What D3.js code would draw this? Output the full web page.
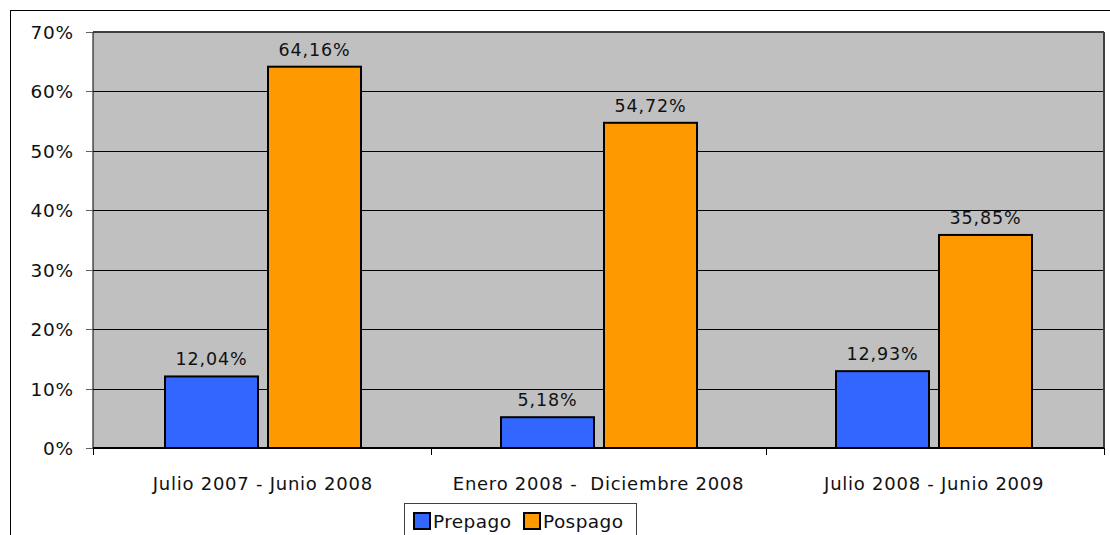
<!DOCTYPE html>
<html><head><meta charset="utf-8">
<script src="https://cdn.jsdelivr.net/npm/d3@7"></script>
<style>body{margin:0;background:#fff;} svg{display:block;} text{font-family:"DejaVu Sans",Verdana,sans-serif;fill:#111;}</style>
</head><body>
<svg id="c" width="1110" height="535"></svg>
<script>
const categories = ["Julio 2007 - Junio 2008", "Enero 2008 -  Diciembre 2008", "Julio 2008 - Junio 2009"];
const seriesNames = ["Prepago", "Pospago"];
const prepago = [12.04, 5.18, 12.93];
const pospago = [64.16, 54.72, 35.85];
const yTicks = [0, 10, 20, 30, 40, 50, 60, 70];
const colors = ["#3366FF", "#FF9900"];

const svg = d3.select("#c");
// outer frame
svg.append("rect").attr("x",10.5).attr("y",10.5).attr("width",1120).attr("height",540)
  .attr("fill","none").attr("stroke","#000").attr("stroke-width",1);

const L=93, T=32, R=1104, B=448;
const x0 = d3.scaleBand().domain(categories).range([L+2,R-2]).paddingInner(0).paddingOuter(0);
const y = d3.scaleLinear().domain([0,70]).range([B,T]);

svg.append("rect").attr("x",L).attr("y",T).attr("width",R-L).attr("height",B-T).attr("fill","#C0C0C0");

// gridlines
svg.append("g").selectAll("line").data(yTicks.filter(d=>d>0)).join("line")
  .attr("x1",L).attr("x2",R).attr("y1",d=>Math.round(y(d))+0.5).attr("y2",d=>Math.round(y(d))+0.5)
  .attr("stroke","#000").attr("stroke-width",1);
// plot border top/right
svg.append("line").attr("x1",L).attr("x2",R).attr("y1",T).attr("y2",T).attr("stroke","#404040").attr("stroke-width",2);
svg.append("line").attr("x1",R).attr("x2",R).attr("y1",T).attr("y2",B).attr("stroke","#404040").attr("stroke-width",2);

const data = categories.map((c,i)=>({c, vals:[prepago[i], pospago[i]]}));
const bwid = 93, gap = 10;
const g = svg.append("g");
data.forEach(d=>{
  const cx = x0(d.c) + x0.bandwidth()/2;
  d.vals.forEach((v,j)=>{
    const xs = Math.round(cx + (j===0 ? -gap/2 - bwid : gap/2));
    g.append("rect").attr("x",xs).attr("y",y(v)).attr("width",bwid).attr("height",y(0)-y(v))
      .attr("fill",colors[j]).attr("stroke","#000").attr("stroke-width",2);
    g.append("text").attr("x",xs+bwid/2).attr("y",y(v)-11).attr("text-anchor","middle")
      .attr("font-size",17.5).attr("letter-spacing","0.9px")
      .text(v.toFixed(2).replace(".",",")+"%");
  });
});

// y axis
svg.append("line").attr("x1",L).attr("x2",L).attr("y1",T).attr("y2",B).attr("stroke","#000").attr("stroke-width",1);
svg.append("g").selectAll("line").data(yTicks).join("line")
  .attr("x1",L-7).attr("x2",L).attr("y1",d=>Math.round(y(d))+0.5).attr("y2",d=>Math.round(y(d))+0.5)
  .attr("stroke","#606060");
svg.append("g").selectAll("text").data(yTicks).join("text")
  .attr("x",74).attr("y",d=>y(d)+7).attr("text-anchor","end").attr("font-size",18.5).attr("letter-spacing","0.8px")
  .text(d=>d+"%");

// x axis
svg.append("line").attr("x1",L).attr("x2",R).attr("y1",B).attr("y2",B).attr("stroke","#000").attr("stroke-width",2);
const xt = [L].concat(categories.slice(1).map(c=>x0(c))).concat([R]);
svg.append("g").selectAll("line").data(xt).join("line")
  .attr("x1",d=>Math.round(d)+0.5).attr("x2",d=>Math.round(d)+0.5).attr("y1",B).attr("y2",B+7).attr("stroke","#000");
svg.append("g").selectAll("text").data(categories).join("text")
  .attr("x",d=>x0(d)+x0.bandwidth()/2).attr("y",490).attr("text-anchor","middle").attr("font-size",18)
  .attr("letter-spacing","0.75px")
  .style("white-space","pre")
  .text(d=>d);

// legend
const lg = svg.append("g");
lg.append("rect").attr("x",404.5).attr("y",503.5).attr("width",232).attr("height",50).attr("fill","#fff").attr("stroke","#404040");
const lx = [413, 523];
seriesNames.forEach((n,j)=>{
  lg.append("rect").attr("x",lx[j]+1).attr("y",513).attr("width",16).attr("height",16)
    .attr("fill",colors[j]).attr("stroke","#000").attr("stroke-width",2);
  lg.append("text").attr("x",lx[j]+20).attr("y",528).attr("font-size",18.5).attr("letter-spacing","0.4px").text(n);
});
</script>
</body></html>
